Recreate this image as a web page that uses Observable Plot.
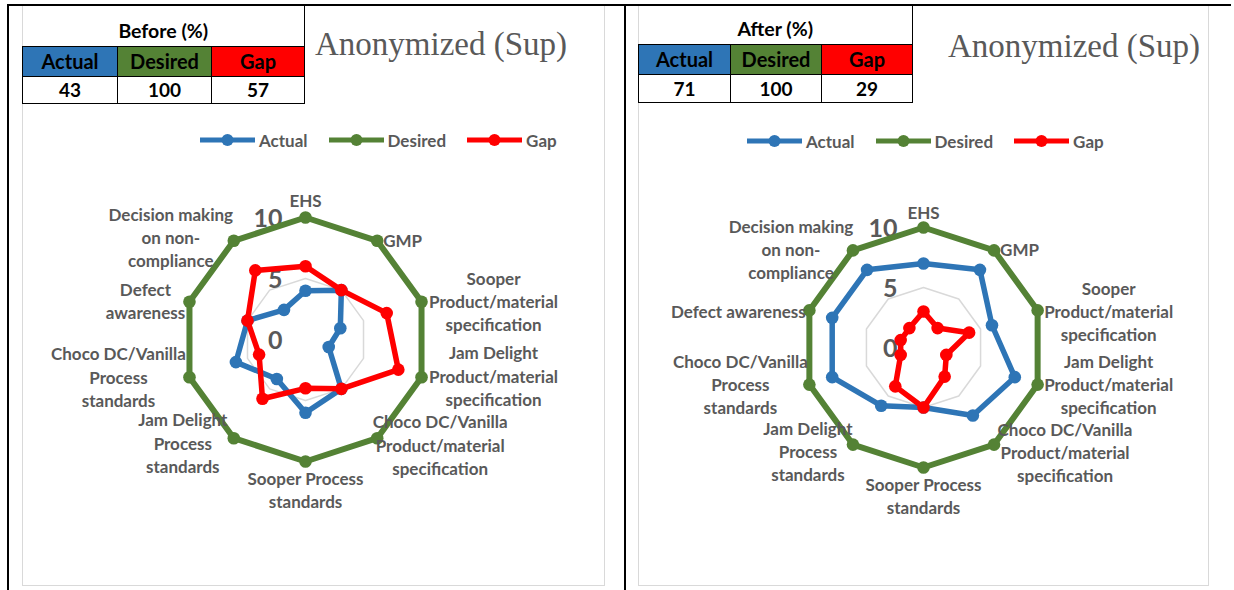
<!DOCTYPE html>
<html><head><meta charset="utf-8">
<script src="https://cdn.jsdelivr.net/npm/d3@7"></script>
<script src="https://cdn.jsdelivr.net/npm/@observablehq/plot@0.6"></script>
<style>
body{margin:0;background:#fff;}
#page{position:relative;width:1234px;height:590px;overflow:hidden;font-family:Lato,"Open Sans",sans-serif;background:#fff;}
.abs{position:absolute;}
.blk{position:absolute;background:#000;}
.gry{position:absolute;border:1.5px solid #d9d9d9;box-sizing:border-box;}
table.sum{position:absolute;border-collapse:collapse;table-layout:fixed;font-family:Lato,sans-serif;font-weight:bold;color:#000;}
table.sum td{padding:0;text-align:center;border:1px solid #000;}
table.sum tr.t td{border-left:none;border-top:none;font-size:19.5px;vertical-align:bottom;padding-bottom:4px;background:#fff;}
table.sum tr.c td{font-size:20px;}
table.sum tr.v td{font-size:19px;background:#fff;}
.title{position:absolute;font-family:"Liberation Serif",serif;font-size:33px;line-height:1;color:#595959;white-space:nowrap;}
.legend{position:absolute;display:flex;align-items:center;height:20px;font-size:17px;font-weight:bold;color:#595959;}
.legend .it{display:flex;align-items:center;margin-right:21px;}
.legend svg{display:block;margin-right:4px;}
.plotwrap{position:absolute;}
.plotwrap svg{overflow:visible;}
</style></head><body><div id="page"></div>
<script>
// ---- data ----
const categories = ["EHS","GMP","Sooper Product/material specification","Jam Delight Product/material specification","Choco DC/Vanilla Product/material specification","Sooper Process standards","Jam Delight Process standards","Choco DC/Vanilla Process standards","Defect awareness","Decision making on non-compliance"];
const labelsBefore = ["EHS","GMP","Sooper\nProduct/material\nspecification","Jam Delight\nProduct/material\nspecification","Choco DC/Vanilla\nProduct/material\nspecification","Sooper Process\nstandards","Jam Delight\nProcess\nstandards","Choco DC/Vanilla\nProcess\nstandards","Defect\nawareness","Decision making\non non-\ncompliance"];
const labelsAfter = ["EHS","GMP","Sooper\nProduct/material\nspecification","Jam Delight\nProduct/material\nspecification","Choco DC/Vanilla\nProduct/material\nspecification","Sooper Process\nstandards","Jam Delight\nProcess\nstandards","Choco DC/Vanilla\nProcess\nstandards","Defect awareness","Decision making\non non-\ncompliance"];
const seriesNames = ["Actual","Desired","Gap"];
const seriesColors = ["#2E75B6","#548235","#FF0000"];
const beforeActual = [4,5,3,2,5,6,4,6,5,3];
const beforeDesired = [10,10,10,10,10,10,10,10,10,10];
const beforeGap = [6,5,7,8,5,4,6,4,5,7];
const afterActual = [7,8,6,8,7,5,6,8,8,8];
const afterDesired = [10,10,10,10,10,10,10,10,10,10];
const afterGap = [3,2,4,2,3,5,4,2,2,2];
const radialTicks = [0,5,10];
const gridLevels = [5];
const beforeTotals = [43,100,57];
const afterTotals = [71,100,29];
const tableTitles = ["Before (%)","After (%)"];
const chartTitle = "Anonymized (Sup)";

// ---- styling (label offsets in px) ----
const offsetsBefore = [[0,-18],[6,-1,"start"],[72,-1],[72,-2],[63,6],[0,28],[-51,4],[-71,-1],[-44,-2],[-63,-4]];
const offsetsAfter  = [[0,-16],[6,-2,"start"],[71,0],[71,-1],[71,7],[0,28],[-45,6],[-69,-1],[-71,0],[-62,-2]];

const page = document.getElementById("page");
function box(cls, l, t, w, h) {
  const d = document.createElement("div"); d.className = cls;
  Object.assign(d.style, {left:l+"px", top:t+"px", width:w+"px", height:h+"px"});
  page.appendChild(d); return d;
}
// frames
box("gry", 22, 5, 583, 581);
box("gry", 638, 5, 571, 581);
box("blk", 7, 4, 1224, 2);
box("blk", 7, 4, 2, 586);
box("blk", 624, 4, 2, 586);

function summaryTable(title, totals, left, top, colW, rowH) {
  const t = document.createElement("table"); t.className = "sum";
  t.style.left = left + "px"; t.style.top = top + "px";
  const cg = document.createElement("colgroup");
  colW.forEach(w => { const c = document.createElement("col"); c.style.width = w + "px"; cg.appendChild(c); });
  t.appendChild(cg);
  const r1 = t.insertRow(); r1.className = "t"; r1.style.height = rowH[0] + "px";
  const c1 = r1.insertCell(); c1.colSpan = 3; c1.textContent = title;
  const r2 = t.insertRow(); r2.className = "c"; r2.style.height = rowH[1] + "px";
  seriesNames.forEach((n, k) => { const c = r2.insertCell(); c.textContent = n; c.style.background = seriesColors[k]; });
  const r3 = t.insertRow(); r3.className = "v"; r3.style.height = rowH[2] + "px";
  totals.forEach(v => { const c = r3.insertCell(); c.textContent = v; });
  t.style.width = colW.reduce((a,b)=>a+b,0) + "px";
  page.appendChild(t);
}
summaryTable(tableTitles[0], beforeTotals, 22, 6, [95,94,93], [40,30,27]);
summaryTable(tableTitles[1], afterTotals, 638, 6, [92,91,91], [38,30,28]);

function title(l, t) { const d = document.createElement("div"); d.className = "title"; d.textContent = chartTitle; d.style.left = l+"px"; d.style.top = t+"px"; page.appendChild(d); }
title(315, 28); title(948, 30);

function legend(l, t) {
  const d = document.createElement("div"); d.className = "legend"; d.style.left = l+"px"; d.style.top = t+"px";
  seriesNames.forEach((n, k) => {
    const it = document.createElement("div"); it.className = "it";
    it.innerHTML = `<svg width="55" height="14"><line x1="0" x2="55" y1="7" y2="7" stroke="${seriesColors[k]}" stroke-width="5" stroke-linecap="round"/><circle cx="27.5" cy="7" r="6" fill="${seriesColors[k]}"/></svg><span>${n}</span>`;
    d.appendChild(it);
  });
  page.appendChild(d);
}
legend(200, 130); legend(747, 131);

function radar({series, labels, offsets, cx, cy, R, width, height, tickDx}) {
  const n = categories.length;
  const polar = (v, i) => [v * Math.sin(2 * Math.PI * i / n), v * Math.cos(2 * Math.PI * i / n)];
  const rows = (vals, name) => vals.map((v, i) => { const [x, y] = polar(v, i); return {name, cat: categories[i], v, x, y}; });
  const grid = gridLevels.flatMap(r => categories.map((c, i) => { const [x, y] = polar(r, i); return {r, x, y}; }));
  const maxR = d3.max(radialTicks);
  const marks = [
    Plot.line(grid, {x: "x", y: "y", z: "r", curve: "linear-closed", stroke: "#d9d9d9", strokeWidth: 1.5}),
    Plot.text(radialTicks, {x: () => 0, y: d => d, text: d => String(d), textAnchor: "end", dx: tickDx, dy: 1, fontSize: 25, fontWeight: "bold", fill: "#595959"})
  ];
  series.forEach((vals, k) => {
    const d = rows(vals, seriesNames[k]);
    marks.push(Plot.line(d, {x: "x", y: "y", curve: "linear-closed", stroke: seriesColors[k], strokeWidth: k === 1 ? 6 : 5.5}));
    marks.push(Plot.dot(d, {x: "x", y: "y", r: 6.3, fill: seriesColors[k], stroke: "none"}));
  });
  labels.forEach((t, i) => {
    const [dx, dy, anchor] = offsets[i];
    const [x, y] = polar(maxR, i);
    marks.push(Plot.text([t], {x: () => x, y: () => y, text: d => d, dx, dy, textAnchor: anchor || "middle", lineAnchor: "middle", lineHeight: 1.36, fontSize: 17, fontWeight: "bold", fill: "#595959"}));
  });
  return Plot.plot({
    width, height,
    x: {domain: [-maxR, maxR], range: [cx - R, cx + R]},
    y: {domain: [-maxR, maxR], range: [cy + R, cy - R]},
    axis: null,
    style: {fontFamily: "Lato, sans-serif", background: "transparent", overflow: "visible"},
    marks
  });
}
function place(el, l, t) { const w = document.createElement("div"); w.className = "plotwrap"; w.style.left = l+"px"; w.style.top = t+"px"; w.appendChild(el); page.appendChild(w); }
place(radar({series: [beforeActual, beforeDesired, beforeGap], labels: labelsBefore, offsets: offsetsBefore, cx: 283, cy: 189, R: 122, width: 582, height: 380, tickDx: -23}), 22, 150);
place(radar({series: [afterActual, afterDesired, afterGap], labels: labelsAfter, offsets: offsetsAfter, cx: 284, cy: 197, R: 120, width: 569, height: 380, tickDx: -26}), 639, 150);
</script></body></html>
